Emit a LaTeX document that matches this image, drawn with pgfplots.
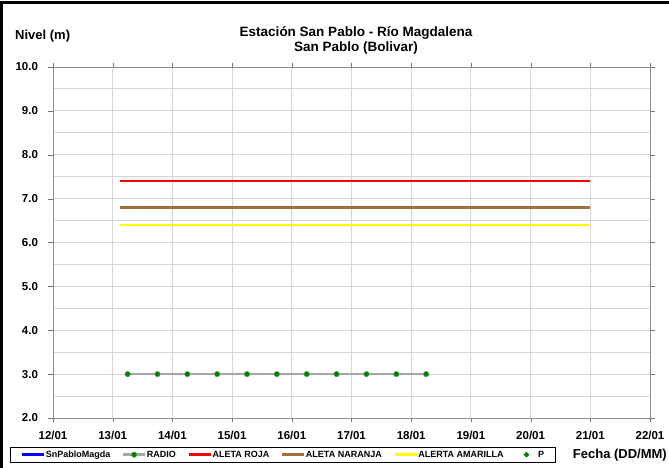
\documentclass[border=0pt]{standalone}
\usepackage{fontspec}
\setmainfont{Liberation Sans}
\usepackage{pgfplots}
\pgfplotsset{compat=1.18}

\definecolor{gridc}{HTML}{D6D6D6}
\definecolor{radioline}{HTML}{A6A6A6}
\definecolor{radiomark}{HTML}{008000}
\definecolor{naranja}{HTML}{A0703C}
\definecolor{amarilla}{HTML}{FFFF00}

\begin{document}
\begin{tikzpicture}[x=1pt,y=1pt]
\useasboundingbox (-53,-50) rectangle (616,418);
% outer frame (left and top edge only visible)
\draw[line width=3pt] (-51.5,-50) -- (-51.5,415) -- (616,415);

\begin{axis}[
    at={(0,0)}, anchor=south west,
    scale only axis,
    width=597pt, height=351pt,
    xmin=12, xmax=22, ymin=2, ymax=10,
    xtick={12,...,22},
    xticklabels={12/01,13/01,14/01,15/01,16/01,17/01,18/01,19/01,20/01,21/01,22/01},
    ytick={2,...,10},
    minor ytick={2.5,3.5,...,9.5},
    yticklabel style={/pgf/number format/fixed, /pgf/number format/fixed zerofill,
        /pgf/number format/precision=1, xshift=-7pt},
    /pgf/number format/assume math mode=true,
    tick label style={font=\bfseries\fontsize{11.5}{13}\selectfont},
    xticklabel style={yshift=-5pt},
    tick align=outside,
    major tick length=4.5pt,
    minor tick length=0pt,
    tick style={draw=black!55},
    axis line style={draw=black!45},
    grid=both,
    major grid style={draw=gridc, line width=0.9pt},
    minor grid style={draw=gridc, line width=0.9pt},
    legend style={
        at={(axis description cs:-0.072,-0.0826)}, anchor=north west,
        legend columns=-1, draw=black,
        font=\bfseries\fontsize{9}{10}\selectfont,
        inner xsep=10.5pt, inner ysep=3pt,
        nodes={inner sep=0.5pt},
        /tikz/every even column/.append style={column sep=11pt},
    },
    legend image code/.code={
        \path (0pt,0pt) (22pt,0pt);
        \draw[mark repeat=2, mark phase=2, line width=2.6pt, #1]
            plot coordinates {(0pt,0pt) (11pt,0pt) (22pt,0pt)};
    },
]
\addlegendimage{blue, line width=2.6pt}
\addlegendentry{SnPabloMagda}

\addplot[color=radioline, line width=2.6pt, mark=*, mark size=2.7pt,
    mark options={fill=radiomark, draw=radiomark!70!white, line width=0.5pt}]
coordinates {
    (13.25,3.0) (13.75,3.0) (14.25,3.0) (14.75,3.0) (15.25,3.0) (15.75,3.0)
    (16.25,3.0) (16.75,3.0) (17.25,3.0) (17.75,3.0) (18.25,3.0)
};
\addlegendentry{RADIO}

\addplot[color=red, line width=2.6pt] coordinates {(13.125,7.4) (21.0,7.4)};
\addlegendentry{ALETA ROJA}

\addplot[color=naranja, line width=2.6pt] coordinates {(13.125,6.8) (21.0,6.8)};
\addlegendentry{ALETA NARANJA}

\addplot[color=amarilla, line width=2.6pt] coordinates {(13.125,6.4) (21.0,6.4)};
\addlegendentry{ALERTA AMARILLA}

\addlegendimage{only marks, mark=*, mark size=1.1pt, radiomark, line width=0.4pt}
\addlegendentry{P}
\end{axis}

\node[font=\bfseries\fontsize{13.5}{15}\selectfont] at (303,385)
    {Estación San Pablo - Río Magdalena};
\node[font=\bfseries\fontsize{13.5}{15}\selectfont] at (303,370)
    {San Pablo (Bolivar)};
\node[font=\bfseries\fontsize{13}{15}\selectfont, anchor=west, inner sep=0pt] at (-38,382) {Nivel (m)};
\node[font=\bfseries\fontsize{13}{15}\selectfont, anchor=east, inner sep=0pt] at (614,-37) {Fecha (DD/MM)};
\end{tikzpicture}
\end{document}
